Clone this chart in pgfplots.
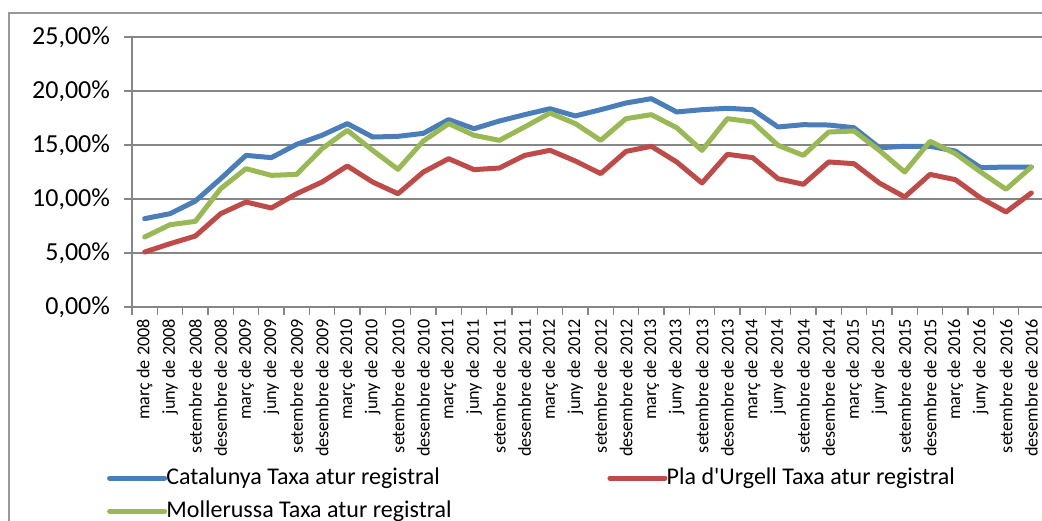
\documentclass[border=0pt]{standalone}
\usepackage{pgfplots}
\usepackage{pgfplotstable}
\pgfplotsset{compat=1.18}
\usepackage{fontspec}
\setmainfont{Carlito}
\definecolor{cblue}{HTML}{4A7EBB}
\definecolor{cred}{HTML}{BE4B48}
\definecolor{cgreen}{HTML}{98B954}
\definecolor{axgray}{HTML}{868686}

\pgfplotstableread{
x cat pla mol
0.5 8.18 5.09 6.48
1.5 8.64 5.86 7.62
2.5 9.81 6.57 7.93
3.5 11.88 8.64 10.96
4.5 14.04 9.72 12.81
5.5 13.83 9.17 12.19
6.5 15.06 10.49 12.28
7.5 15.90 11.57 14.66
8.5 16.98 13.06 16.36
9.5 15.74 11.57 14.50
10.5 15.80 10.49 12.75
11.5 16.08 12.50 15.37
12.5 17.35 13.73 16.98
13.5 16.51 12.72 15.90
14.5 17.22 12.87 15.43
15.5 17.81 14.04 16.67
16.5 18.36 14.51 17.96
17.5 17.69 13.52 16.98
18.5 18.27 12.35 15.43
19.5 18.89 14.41 17.44
20.5 19.29 14.88 17.81
21.5 18.06 13.43 16.60
22.5 18.27 11.48 14.50
23.5 18.40 14.14 17.44
24.5 18.27 13.83 17.13
25.5 16.67 11.88 14.97
26.5 16.88 11.36 14.04
27.5 16.85 13.43 16.20
28.5 16.60 13.27 16.30
29.5 14.75 11.48 14.50
30.5 14.88 10.19 12.50
31.5 14.88 12.28 15.34
32.5 14.44 11.79 14.20
33.5 12.90 10.09 12.50
34.5 12.96 8.80 10.90
35.5 12.96 10.56 12.96
}\datatable

\begin{document}
\begin{tikzpicture}
\useasboundingbox (0,0) rectangle (521pt,260pt);
\clip (0,0) rectangle (521pt,260pt);
\draw[axgray!85, line width=0.7pt] (4.5pt,-5pt) -- (4.5pt,253.5pt) -- (530pt,253.5pt);
\begin{axis}[
  at={(66pt,106.5pt)}, anchor=south west,
  scale only axis, width=456pt, height=135pt,
  xmin=0, xmax=36, ymin=0, ymax=25,
  axis x line*=bottom, axis y line*=left,
  axis line style={axgray, line width=0.75pt, -},
  tick align=outside, major tick length=4pt,
  tick style={axgray, line width=0.75pt},
  ytick={0,5,10,15,20,25},
  yticklabels={{0,00\%},{5,00\%},{10,00\%},{15,00\%},{20,00\%},{25,00\%}},
  yticklabel style={font=\fontsize{13}{14}\selectfont, text=black, xshift=-3.5pt},
  ymajorgrids, grid style={axgray, line width=0.75pt},
  xtick={0,1,...,36}, xticklabels={},
  extra x ticks={0.5,1.5,...,35.5},
  extra x tick style={major tick length=0pt, grid=none},
  extra x tick labels={març de 2008,juny de 2008,setembre de 2008,desembre de 2008,març de 2009,juny de 2009,setembre de 2009,desembre de 2009,març de 2010,juny de 2010,setembre de 2010,desembre de 2010,març de 2011,juny de 2011,setembre de 2011,desembre de 2011,març de 2012,juny de 2012,setembre de 2012,desembre de 2012,març de 2013,juny de 2013,setembre de 2013,desembre de 2013,març de 2014,juny de 2014,setembre de 2014,desembre de 2014,març de 2015,juny de 2015,setembre de 2015,desembre de 2015,març de 2016,juny de 2016,setembre de 2016,desembre de 2016},
  xticklabel style={rotate=90, anchor=east, font=\fontsize{9.1}{10}\selectfont, text=black, yshift=0pt, xshift=-2.5pt},
  legend columns=2,
  legend cell align=left,
  legend image code/.code={\draw[#1] (0pt,0pt) -- (27.5pt,0pt);},
  legend style={draw=none, fill=none, at={(axis description cs:0,0)}, anchor=north west,
    xshift=-15.65pt, yshift=-77.3pt,
    font=\fontsize{12}{14}\selectfont,
    nodes={inner sep=0pt, text height=9pt, text depth=3pt},
    row sep=4.5pt,
    /tikz/every odd column/.append style={column sep=-0.35pt},
    /tikz/every even column/.append style={column sep=77.85pt}},
]
\addplot[cblue, line width=2.5pt, line join=round, line cap=round] table[x=x, y=cat] {\datatable};
\addlegendentry{Catalunya Taxa atur registral}
\addplot[cred, line width=2.5pt, line join=round, line cap=round] table[x=x, y=pla] {\datatable};
\addlegendentry{Pla d\textquotesingle Urgell Taxa atur registral}
\addplot[cgreen, line width=2.5pt, line join=round, line cap=round] table[x=x, y=mol] {\datatable};
\addlegendentry{Mollerussa Taxa atur registral}
\end{axis}
\end{tikzpicture}
\end{document}
